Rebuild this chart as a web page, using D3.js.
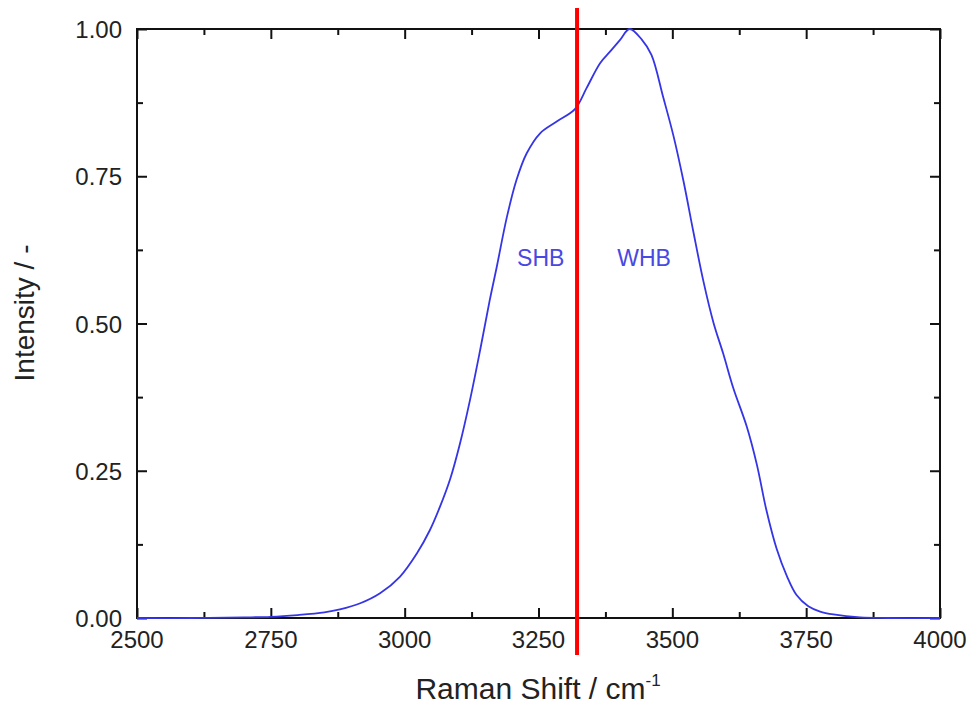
<!DOCTYPE html>
<html>
<head>
<meta charset="utf-8">
<script src="https://cdn.jsdelivr.net/npm/d3@7"></script>
<style>
  body { margin: 0; background: #fff; }
  text { font-family: "Liberation Sans", Arial, sans-serif; }
</style>
</head>
<body>
<div id="chart"></div>
<script>
// spectrum
var shift = [2500, 2600, 2700, 2750, 2800, 2850, 2879, 2917, 2954, 2991, 3023, 3047, 3066, 3085, 3103, 3122, 3141, 3159, 3172, 3191, 3209, 3228, 3253, 3284, 3318, 3340, 3365, 3384, 3402, 3420, 3443, 3461, 3483, 3502, 3521, 3539, 3558, 3577, 3595, 3614, 3639, 3658, 3676, 3695, 3714, 3732, 3754, 3776, 3801, 3851, 3900, 4000];
var intensity = [0, 0, 0.001, 0.002, 0.005, 0.0095, 0.0145, 0.025, 0.042, 0.070, 0.110, 0.149, 0.189, 0.236, 0.295, 0.370, 0.455, 0.540, 0.596, 0.681, 0.744, 0.789, 0.823, 0.843, 0.864, 0.900, 0.942, 0.962, 0.981, 1.0, 0.982, 0.956, 0.884, 0.819, 0.741, 0.657, 0.572, 0.501, 0.449, 0.390, 0.325, 0.260, 0.182, 0.117, 0.071, 0.039, 0.020, 0.011, 0.006, 0.001, 0, 0];
var xTicks = [2500, 2750, 3000, 3250, 3500, 3750, 4000];
var yTicks = [0, 0.25, 0.5, 0.75, 1.0];
var divider = 3322;
var labels = [{ text: "SHB", x: 3210 }, { text: "WHB", x: 3397 }];
var labelY = 0.598;

var svgWidth = 971;
var svgHeight = 709;
var margin = { top: 29, right: 31, bottom: 91, left: 137 };
var width = svgWidth - margin.left - margin.right;
var height = svgHeight - margin.top - margin.bottom;

var svg = d3.select("#chart")
    .append("svg")
    .attr("width", svgWidth)
    .attr("height", svgHeight);

var chartGroup = svg.append("g")
    .attr("transform", "translate(" + margin.left + "," + margin.top + ")");

var xScale = d3.scaleLinear().domain([2500, 4000]).range([0, width]);
var yScale = d3.scaleLinear().domain([0, 1]).range([height, 0]);

var xMinor = d3.range(2625, 4000, 250);
var yMinor = [0.125, 0.375, 0.625, 0.875];

// ticks go inward on all four sides
function tickAxis(axisFn, scale, values, size) {
    return axisFn(scale).tickValues(values).tickSize(size).tickPadding(0).tickFormat("");
}

var bottomG = chartGroup.append("g").attr("transform", `translate(0, ${height})`);
bottomG.call(tickAxis(d3.axisTop, xScale, xTicks, 10));
bottomG.append("g").call(tickAxis(d3.axisTop, xScale, xMinor, 6));
var topG = chartGroup.append("g");
topG.call(tickAxis(d3.axisBottom, xScale, xTicks, 10));
topG.append("g").call(tickAxis(d3.axisBottom, xScale, xMinor, 6));
var leftG = chartGroup.append("g");
leftG.call(tickAxis(d3.axisRight, yScale, yTicks, 10));
leftG.append("g").call(tickAxis(d3.axisRight, yScale, yMinor, 6));
var rightG = chartGroup.append("g").attr("transform", `translate(${width}, 0)`);
rightG.call(tickAxis(d3.axisLeft, yScale, yTicks, 10));
rightG.append("g").call(tickAxis(d3.axisLeft, yScale, yMinor, 6));

chartGroup.selectAll(".domain").remove();
chartGroup.selectAll(".tick line").attr("stroke", "#111").attr("stroke-width", 2);

chartGroup.append("rect")
    .attr("width", width)
    .attr("height", height)
    .attr("fill", "none")
    .attr("stroke", "#111")
    .attr("stroke-width", 2);

// tick labels
chartGroup.selectAll(".xlab")
    .data(xTicks)
    .enter()
    .append("text")
    .attr("x", d => xScale(d))
    .attr("y", height + 30)
    .attr("text-anchor", "middle")
    .attr("font-size", 24)
    .attr("fill", "#222")
    .text(d => d);

chartGroup.selectAll(".ylab")
    .data(yTicks)
    .enter()
    .append("text")
    .attr("x", -15)
    .attr("y", d => yScale(d) + 9)
    .attr("text-anchor", "end")
    .attr("font-size", 24)
    .attr("fill", "#222")
    .text(d => d3.format(".2f")(d));

// spectrum
var pts = shift.map((s, i) => [s, intensity[i]]);
var line = d3.line()
    .x(d => xScale(d[0]))
    .y(d => Math.min(yScale(d[1]), height))
    .curve(d3.curveCatmullRom.alpha(0.5));

chartGroup.append("path")
    .datum(pts)
    .attr("d", line)
    .attr("fill", "none")
    .attr("stroke", "#3535e6")
    .attr("stroke-width", 1.8);

// divider line
chartGroup.append("line")
    .attr("x1", xScale(divider))
    .attr("x2", xScale(divider))
    .attr("y1", -21)
    .attr("y2", height + 37)
    .attr("stroke", "#ff0000")
    .attr("stroke-width", 4);

chartGroup.selectAll(".band")
    .data(labels)
    .enter()
    .append("text")
    .attr("x", d => xScale(d.x))
    .attr("y", yScale(labelY))
    .attr("font-family", "Lato, sans-serif")
    .attr("font-size", 23)
    .attr("fill", "#4848e2")
    .text(d => d.text);

// axis titles
var xTitle = chartGroup.append("text")
    .attr("x", 401)
    .attr("y", height + 81)
    .attr("text-anchor", "middle")
    .attr("font-size", 30)
    .attr("fill", "#222")
    .text("Raman Shift / cm");
xTitle.append("tspan")
    .attr("font-size", 17)
    .attr("dy", -13)
    .text("-1");

chartGroup.append("text")
    .attr("transform", "rotate(-90)")
    .attr("x", -284)
    .attr("y", -103)
    .attr("text-anchor", "middle")
    .attr("font-size", 28)
    .attr("fill", "#222")
    .text("Intensity / -");
</script>
</body>
</html>
